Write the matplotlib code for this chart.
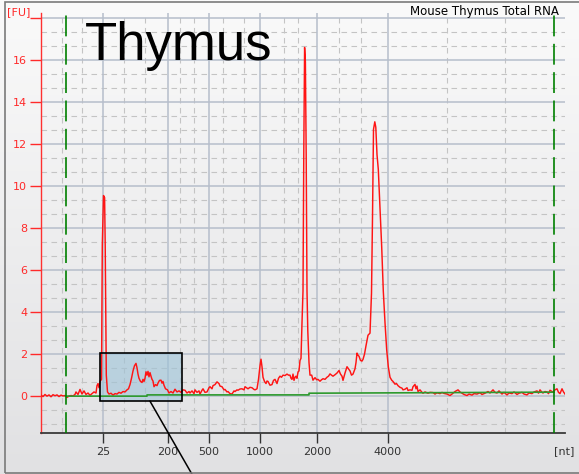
import numpy as np
import matplotlib.pyplot as plt
from matplotlib.patches import Rectangle
from matplotlib.colors import LinearSegmentedColormap

# electropherogram trace: migration position (a.u.) and fluorescence [FU]
mig_pos = [
    41, 43, 45, 47, 49, 51, 53, 55, 57, 59, 61, 63, 65, 67, 69, 71, 73, 75, 76, 78,
    80, 82, 84, 86, 88, 90, 92, 94, 96, 97, 98, 99, 100, 101.5, 102.3, 103.5, 104.6,
    105.2, 106.3, 107.5, 109, 111, 113, 115, 117, 119, 121, 123, 125, 127, 128.5,
    130, 131.5, 133, 134.5, 136, 137, 138, 139, 140.5, 142, 143, 144, 145, 146, 147,
    148, 149, 150, 151, 152, 153, 154, 155.5, 157, 158, 159.5, 161, 162, 163, 164,
    165.5, 167.5, 169, 171, 173, 175, 177, 179, 181, 183, 185, 187, 189, 190, 192,
    194, 195, 197, 199, 200, 202, 203, 205, 207, 209, 210, 212, 213, 215, 217, 219,
    220, 222, 224, 225, 227, 228, 230, 232, 234, 235, 237, 238, 240, 242, 244, 245,
    247, 248, 250, 252, 254, 255, 257, 258.5, 260, 261, 262, 263, 264.5, 266, 267,
    268, 270, 272, 273.5, 275, 277, 278.5, 280, 281.5, 283, 285, 287, 288.5, 290,
    291, 292, 293, 294, 295, 296, 297, 298, 299, 300, 301, 302, 303, 303.8, 304.6,
    305.4, 306.2, 307, 307.8, 309, 310, 311.7, 313, 315, 316.7, 318, 320, 321.5, 323,
    325, 327, 328.5, 330, 331.5, 333, 335, 337, 339, 340.5, 342, 343, 345, 347,
    348.5, 350, 351.5, 353, 355, 356, 357, 358, 359, 360.5, 362, 363, 364.5, 366,
    368, 370, 371.5, 372.5, 373.5, 374.8, 375.8, 377, 378.3, 380, 381.7, 383.3, 385,
    386.7, 388.3, 390, 391.7, 393, 395, 396.5, 398, 400, 402, 403, 405, 407, 408,
    410, 412, 413, 415, 416, 417, 418, 420, 422, 423, 425, 428, 430, 433, 435, 437,
    440, 442, 444, 447, 450, 452, 455, 458, 460, 462, 464, 467, 469, 472, 474, 477,
    480, 482, 485, 488, 490, 493, 495, 497, 499, 502, 504, 507, 509, 512, 514, 517,
    519, 522, 524, 527, 529, 532, 534, 537, 538.5, 540, 542, 543, 545, 547, 548.5,
    550, 552, 553, 555, 557, 558.5, 560, 562, 563.5, 565,
]
fluor = [
    0.05, -0.02, 0.08, 0.00, 0.06, -0.03, 0.07, 0.02, 0.06, -0.02, 0.05, 0.01, 0.03,
    -0.06, 0.00, 0.03, 0.01, 0.08, 0.20, 0.08, 0.32, 0.10, 0.25, 0.08, 0.15, 0.04,
    0.12, 0.20, 0.15, 0.50, 0.60, 0.40, 0.70, 0.80, 7.20, 9.55, 9.45, 7.20, 1.00,
    0.20, 0.10, 0.14, 0.05, 0.12, 0.10, 0.18, 0.14, 0.22, 0.20, 0.30, 0.35, 0.55,
    0.85, 1.20, 1.45, 1.56, 1.35, 1.05, 0.85, 0.70, 0.65, 0.80, 0.70, 0.85, 1.16,
    1.00, 1.18, 0.92, 1.12, 0.95, 0.80, 0.72, 0.45, 0.55, 0.50, 0.62, 0.75, 0.76,
    0.62, 0.70, 0.52, 0.35, 0.30, 0.15, 0.22, 0.15, 0.33, 0.20, 0.25, 0.18, 0.30,
    0.28, 0.15, 0.22, 0.15, 0.25, 0.12, 0.30, 0.18, 0.25, 0.10, 0.28, 0.35, 0.18,
    0.20, 0.40, 0.45, 0.35, 0.50, 0.55, 0.68, 0.60, 0.48, 0.45, 0.30, 0.32, 0.20,
    0.22, 0.12, 0.10, 0.25, 0.22, 0.30, 0.28, 0.34, 0.35, 0.30, 0.45, 0.38, 0.35,
    0.42, 0.40, 0.32, 0.30, 0.35, 0.80, 1.45, 1.76, 1.40, 0.90, 0.70, 0.60, 0.72,
    0.70, 0.52, 0.55, 0.75, 0.80, 0.60, 0.85, 0.95, 0.90, 1.00, 0.98, 1.05, 1.00,
    1.00, 0.85, 0.80, 1.05, 0.75, 0.90, 0.95, 0.85, 1.15, 1.20, 1.70, 1.80, 3.50,
    5.00, 11.7, 16.6, 15.9, 11.4, 5.0, 3.1, 1.6, 1.0, 1.0, 0.76, 0.88, 0.78, 0.80,
    0.71, 0.78, 0.83, 0.80, 0.90, 0.95, 1.06, 1.00, 0.95, 1.02, 1.10, 1.22, 1.05,
    0.95, 0.75, 1.10, 1.40, 1.30, 1.20, 1.00, 1.05, 1.30, 1.60, 2.05, 1.95, 1.90,
    1.70, 1.67, 1.75, 2.00, 2.40, 2.90, 3.00, 4.90, 8.50, 12.70, 13.06, 12.80,
    11.50, 10.80, 8.90, 7.10, 5.00, 3.50, 2.20, 1.40, 0.90, 0.76, 0.70, 0.57, 0.60,
    0.50, 0.42, 0.38, 0.30, 0.33, 0.40, 0.27, 0.30, 0.28, 0.45, 0.56, 0.35, 0.48,
    0.22, 0.30, 0.18, 0.14, 0.20, 0.14, 0.18, 0.17, 0.10, 0.16, 0.12, 0.18, 0.13,
    0.10, 0.03, 0.10, 0.22, 0.30, 0.20, 0.14, 0.08, 0.03, 0.10, 0.05, 0.12, 0.10,
    0.16, 0.08, 0.14, 0.22, 0.15, 0.30, 0.18, 0.15, 0.25, 0.10, 0.18, 0.06, 0.15,
    0.12, 0.20, 0.08, 0.14, 0.18, 0.10, 0.06, 0.15, 0.12, 0.20, 0.25, 0.14, 0.30,
    0.18, 0.15, 0.22, 0.20, 0.12, 0.28, 0.22, 0.20, 0.30, 0.35, 0.18, 0.12, 0.35,
    0.20, 0.10,
]

# ladder (size) positions on the migration axis
ladder_pos = [103, 168, 209, 260, 317, 388]
ladder_nt = ['25', '200', '500', '1000', '2000', '4000']
minor_pos = [62, 82, 124, 145, 180, 194, 223, 244, 284, 298, 339, 361, 447, 505]
fu_major = [0, 2, 4, 6, 8, 10, 12, 14, 16, 18]

# lower / upper marker, baseline
marker_pos = [65.5, 554]
baseline_pos = [65.5, 147, 147, 309, 309, 554]
baseline_fu = [0.0, 0.0, 0.06, 0.06, 0.14, 0.19]

# highlighted small-RNA region and its leader line
box_pos = (100, 182)
box_fu = (-0.24, 2.05)
leader_pos = (150, 193)
leader_fu = (-0.24, -3.8)

W, H = 579, 474
fig = plt.figure(figsize=(W / 100, H / 100), dpi=100)

# grey gradient background
bg = fig.add_axes([0, 0, 1, 1], zorder=-10)
grad = LinearSegmentedColormap.from_list('g', ['#e1e1e3', '#fafafa'])
bg.imshow(np.linspace(0, 1, 256)[:, None], aspect='auto', cmap=grad,
          origin='lower', extent=[0, 1, 0, 1])
bg.axis('off')
fig.patches.append(Rectangle((5 / W, 1.3 / H), 1.0, (472.5 - 1.3) / H,
                             transform=fig.transFigure, fill=False,
                             ec='#7a7a7a', lw=1.2))

ax = fig.add_axes([41 / W, (H - 432.7) / H, 524 / W, (432.7 - 13) / H])
ax.set_facecolor('none')
ax.set_xlim(41, 565)
ax.set_ylim(-1.74, 18.24)

ax.set_xticks(ladder_pos)
ax.set_xticklabels(ladder_nt)
ax.set_yticks(fu_major)
ax.set_yticklabels([str(v) for v in fu_major[:-1]] + [''])

ax.tick_params(axis='y', colors='#ff2a2a', length=8, width=1,
               labelsize=8, pad=2)
ax.tick_params(axis='x', colors='#333333', length=7, width=1,
               labelsize=8, pad=3)

# grid: solid at ladder / FU ticks, dashed in between
dash = dict(color='#c4c4c4', lw=0.8, ls=(0, (5, 4)), zorder=0.5)
for v in np.arange(-2, 27) * 2 / 3:
    if abs(v - round(v / 2) * 2) > 0.01:
        ax.axhline(v, **dash)
for v in minor_pos:
    ax.axvline(v, **dash)
for v in fu_major:
    ax.axhline(v, color='#b6becb', lw=1.1, zorder=0.6)
for v in ladder_pos:
    ax.axvline(v, color='#b6becb', lw=1.1, zorder=0.6)

for s in ['top', 'right']:
    ax.spines[s].set_visible(False)
ax.spines['left'].set_color('#ff3030')
ax.spines['left'].set_linewidth(1.0)
ax.spines['bottom'].set_color('#3a3a3a')
ax.spines['bottom'].set_linewidth(1.3)

# zoom box fill
ax.add_patch(Rectangle((box_pos[0], box_fu[0]), box_pos[1] - box_pos[0],
                       box_fu[1] - box_fu[0], fc='#9cc3d8', alpha=0.6,
                       ec='none', zorder=1))

ax.plot(mig_pos, fluor, color='#ff1414', lw=1.05, zorder=3)
ax.plot(baseline_pos, baseline_fu, color='#2e9a2e', lw=1.2, zorder=4)
for m in marker_pos:
    ax.axvline(m, color='#008000', lw=1.2, ls=(0, (12.5, 4.5)), zorder=4)

ax.add_patch(Rectangle((box_pos[0], box_fu[0]), box_pos[1] - box_pos[0],
                       box_fu[1] - box_fu[0], fill=False, ec='black',
                       lw=1.2, zorder=5))
ax.plot(leader_pos, leader_fu, color='black', lw=1.1, clip_on=False, zorder=5)

fig.text(85 / W, (H - 60) / H, 'Thymus', fontsize=38,
         family='Liberation Sans', ha='left', va='baseline')
fig.text(559 / W, (H - 14.5) / H, 'Mouse Thymus Total RNA', fontsize=8.5,
         ha='right', va='baseline')
fig.text(30 / W, (H - 12.5) / H, '[FU]', fontsize=8, color='#ff2a2a',
         ha='right', va='center')
fig.text(564 / W, (H - 451) / H, '[nt]', fontsize=8, color='#333333',
         ha='center', va='center')

fig.savefig('out.png', dpi=100)
